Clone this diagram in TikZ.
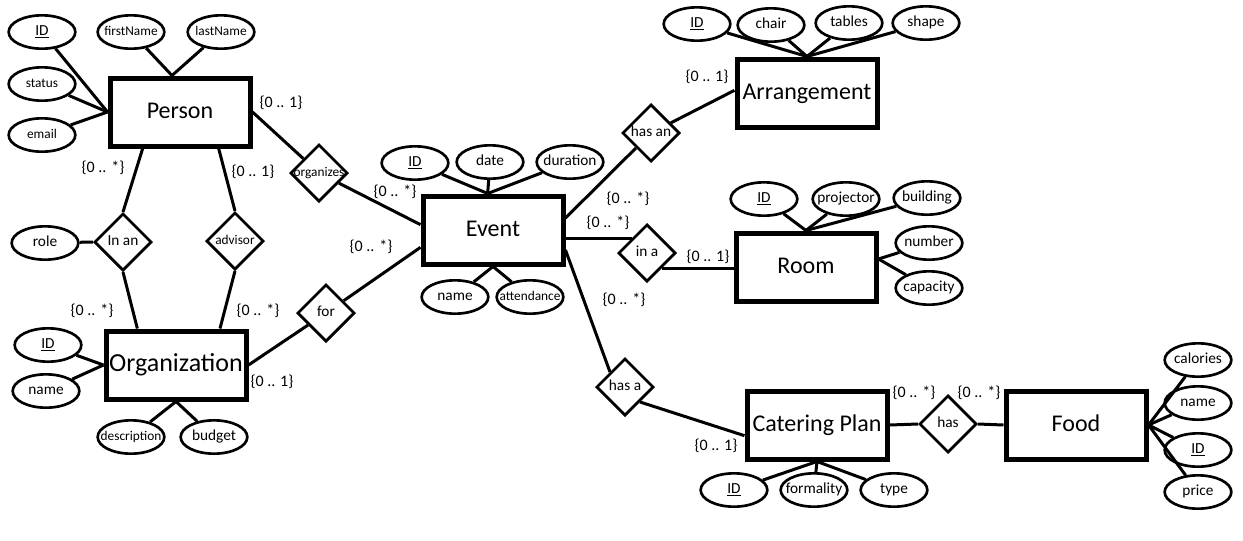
\documentclass[tikz,border=0pt]{standalone}
\usepackage{fontspec}
\setmainfont{Carlito}
\usetikzlibrary{shapes.geometric}
\newcommand{\fixw}[1]{\makebox[0pt]{#1}}
\tikzset{
  entity/.style={draw, line width=3.75pt, minimum width=105pt, minimum height=51pt, inner sep=0pt, text height=12.5pt, text depth=3.5pt, font=\fontsize{18}{20}\selectfont},
  relation/.style={draw, diamond, line width=2pt, minimum width=43pt, minimum height=43pt, inner sep=0pt, text height=8pt, text depth=2.5pt, font=\fontsize{11.5}{13}\selectfont},
  attr/.style={draw, ellipse, line width=2pt, minimum width=50pt, minimum height=25pt, inner sep=0pt, text height=8pt, text depth=2.5pt, font=\fontsize{11.5}{13}\selectfont},
  smalltext/.style={font=\fontsize{10}{12}\selectfont},
  card/.style={inner sep=0pt, font=\fontsize{12}{14}\selectfont},
  link/.style={line width=2.25pt}
}
\begin{document}
\begin{tikzpicture}[x=0.75pt, y=-0.75pt]
\useasboundingbox (0,0) rectangle (1243,540);
% Entities
\node[entity] (person) at (180,112) {Person};
\node[entity, font=\fontsize{19.5}{22}\selectfont] (org) at (176,365) {Organization};
\node[entity] (event) at (493,230) {Event};
\node[entity] (arr) at (807,93) {Arrangement};
\node[entity] (room) at (806,267) {Room};
\node[entity] (cater) at (817,425) {Catering Plan};
\node[entity] (food) at (1076,425) {Food};
% Relations
\node[relation, smalltext] (organizes) at (319,173) {\fixw{organizes}};
\node[relation] (inan) at (123,242) {\fixw{In an}};
\node[relation, smalltext] (advisor) at (235,241) {\fixw{advisor}};
\node[relation] (for) at (326,313) {\fixw{for}};
\node[relation] (hasan) at (651,133) {\fixw{has an}};
\node[relation] (ina) at (647,253) {\fixw{in a}};
\node[relation] (hasa) at (625,387) {\fixw{has a}};
\node[relation] (has) at (948,424) {\fixw{has}};
% Attributes of Person
\node[attr] (pID) at (42,32) {\underline{ID}};
\node[attr, smalltext] (firstName) at (131,32) {\fixw{firstName}};
\node[attr, smalltext] (lastName) at (221,32) {\fixw{lastName}};
\node[attr, smalltext] (status) at (42,84) {status};
\node[attr, smalltext] (email) at (42,135) {email};
\node[attr] (role) at (45,243) {role};
% Attributes of Organization
\node[attr] (oID) at (48,345) {\underline{ID}};
\node[attr] (oname) at (46,391) {name};
\node[attr, smalltext] (description) at (131,437) {\fixw{description}};
\node[attr] (budget) at (214,437) {budget};
% Attributes of Event
\node[attr] (eID) at (415,163) {\underline{ID}};
\node[attr] (date) at (490,162) {date};
\node[attr] (duration) at (570,162) {\fixw{duration}};
\node[attr] (ename) at (455,297) {name};
\node[attr, smalltext] (attendance) at (530,297) {\fixw{attendance}};
% Attributes of Arrangement
\node[attr] (aID) at (697,24) {\underline{ID}};
\node[attr] (chair) at (771,25) {chair};
\node[attr] (tables) at (849,23) {tables};
\node[attr] (shape) at (926,23) {shape};
% Attributes of Room
\node[attr] (rID) at (764,199) {\underline{ID}};
\node[attr] (projector) at (846,199) {\fixw{projector}};
\node[attr] (building) at (927,198) {\fixw{building}};
\node[attr] (number) at (929,243) {\fixw{number}};
\node[attr] (capacity) at (929,288) {\fixw{capacity}};
% Attributes of Catering Plan
\node[attr] (cID) at (734,490) {\underline{ID}};
\node[attr] (formality) at (814,490) {\fixw{formality}};
\node[attr] (type) at (894,490) {type};
% Attributes of Food
\node[attr] (calories) at (1198,360) {\fixw{calories}};
\node[attr] (fname) at (1198,403) {name};
\node[attr] (fID) at (1198,450) {\underline{ID}};
\node[attr] (price) at (1198,492) {price};
% Attribute links
\foreach \a in {pID,status,email} \draw[link] (\a) -- (person.west);
\foreach \a in {firstName,lastName} \draw[link] (\a) -- ([xshift=-6pt]person.north);
\draw[link] (role) -- (inan.west);
\foreach \a in {oID,oname} \draw[link] (\a) -- (org.west);
\foreach \a in {description,budget} \draw[link] (\a) -- (org.south);
\foreach \a in {eID,date,duration} \draw[link] (\a) -- ([xshift=-4pt]event.north);
\foreach \a in {ename,attendance} \draw[link] (\a) -- (event.south);
\foreach \a in {aID,chair,tables,shape} \draw[link] (\a) -- (arr.north);
\foreach \a in {rID,projector,building} \draw[link] (\a) -- (room.north);
\foreach \a in {number,capacity} \draw[link] (\a) -- ([yshift=6pt]room.east);
\foreach \a in {cID,formality,type} \draw[link] (\a) -- (cater.south);
\foreach \a in {calories,fname,fID,price} \draw[link] (\a) -- (food.east);
% Relation links
\draw[link] (person.east) -- (organizes);
\draw[link] (organizes) -- ([yshift=4pt]event.west);
\draw[link] ([xshift=-28pt]person.south) -- (inan.north);
\draw[link] (inan.south) -- ([xshift=-29pt]org.north);
\draw[link] ([xshift=29pt]person.south) -- (advisor.north);
\draw[link] (advisor.south) -- ([xshift=33pt]org.north);
\draw[link] (org.east) -- (for);
\draw[link] (for) -- ([yshift=-13pt]event.west);
\draw[link] ([yshift=9pt]event.east) -- (hasan);
\draw[link] (hasan) -- ([yshift=2pt]arr.west);
\draw[link] (ina.north west -| event.east) -- (ina.north west);
\draw[link] (ina.south east) -- (ina.south east -| room.west);
\draw[link] ([yshift=-15pt]event.east) -- (hasa.north west);
\draw[link] (hasa.south east) -- ([yshift=-8pt]cater.west);
\draw[link] (cater.east) -- (has.west);
\draw[link] (has.east) -- (food.west);
% Cardinalities
\foreach \x/\y/\m [count=\i] in {281/103/1, 103/168/*, 253/172/1, 92/311/*, 258/311/*, 272/382/1,
    371/247/*, 395/192/*, 707/77/1, 628/199/*, 608/223/*, 708/257/1, 624/300/*, 716/446/1,
    914/393/*, 979/393/*}
  \node[card] (card\i) at (\x,\y) {\{0 .. \m\}};
\end{tikzpicture}
\end{document}
